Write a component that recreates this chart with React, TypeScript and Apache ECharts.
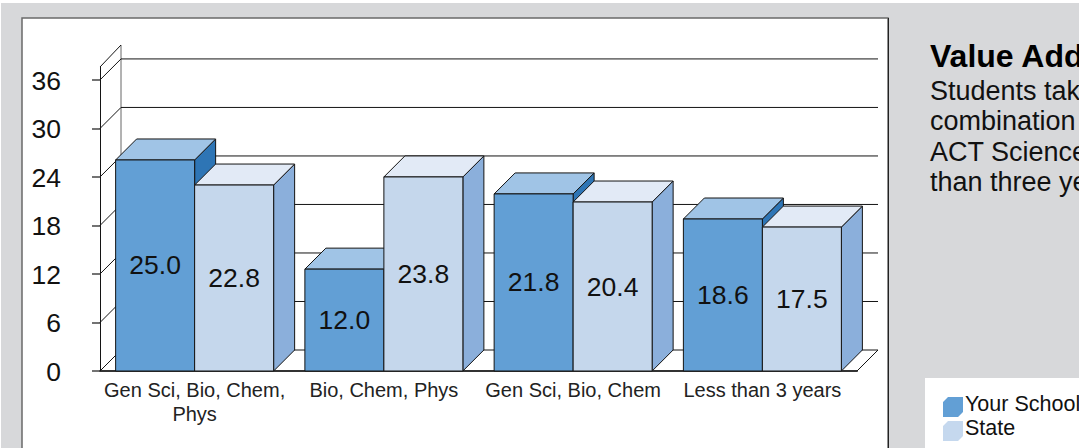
import React, { useEffect, useRef } from "react";
import * as echarts from "echarts";

const categories = ["Gen Sci, Bio, Chem,\nPhys", "Bio, Chem, Phys", "Gen Sci, Bio, Chem", "Less than 3 years"];
const yTicks = [0, 6, 12, 18, 24, 30, 36];
// Printed value labels.
const schoolLabels = [25.0, 12.0, 21.8, 18.6];
const stateLabels = [22.8, 23.8, 20.4, 17.5];
// Bar heights as read against the axis: the reference draws them a little off its printed labels.
const schoolHeights = [26.1, 12.6, 21.9, 18.8];
const stateHeights = [23.0, 24.0, 20.9, 17.8];
const seriesNames = ["Your School", "State"];
const axisTop = 37.6;

const title = "Value Added";
const bodyLines = ["Students taking", "combination", "ACT Science", "than three years"];

const FONT = "'Liberation Sans', Arial, sans-serif";
const DEPTH = 21;
const BAR = 79;
const LINE = "#141414";

function cuboid(front: string, top: string, side: string, dir: number) {
  return (params: any, api: any) => {
    const [cx, y] = api.coord([api.value(0), api.value(1)]);
    const [, y0] = api.coord([api.value(0), 0]);
    const x0 = dir < 0 ? cx - BAR : cx;
    const x1 = x0 + BAR;
    const style = (fill: string) => ({ fill, stroke: LINE, lineWidth: 1 });
    return {
      type: "group",
      children: [
        { type: "polygon", shape: { points: [[x1, y], [x1 + DEPTH, y - DEPTH], [x1 + DEPTH, y0 - DEPTH], [x1, y0]] }, style: style(side) },
        { type: "polygon", shape: { points: [[x0, y], [x0 + DEPTH, y - DEPTH], [x1 + DEPTH, y - DEPTH], [x1, y]] }, style: style(top) },
        { type: "rect", shape: { x: x0, y, width: BAR, height: y0 - y }, style: style(front) },
        {
          type: "text",
          x: x0 + BAR / 2,
          y: (y + y0) / 2,
          style: {
            text: api.value(2).toFixed(1),
            font: `26.5px ${FONT}`,
            fill: "#111",
            align: "center",
            verticalAlign: "middle",
          },
        },
      ],
    };
  };
}

function wallLines(params: any, api: any) {
  const [, y] = api.coord([0, api.value(0)]);
  const cs = params.coordSys;
  const left = cs.x;
  const right = cs.x + cs.width;
  const ln = (x1: number, y1: number, x2: number, y2: number, stroke = LINE) => ({
    type: "line",
    shape: { x1, y1, x2, y2 },
    style: { stroke, lineWidth: 1 },
  });
  const children: any[] = [
    ln(left, y, left + DEPTH, y - DEPTH),
    ln(left + DEPTH, y - DEPTH, right + DEPTH, y - DEPTH),
  ];
  if (api.value(0) === 0) {
    children.push(
      ln(right, y, right + DEPTH, y - DEPTH),
      ln(left + DEPTH, y - DEPTH, left + DEPTH, cs.y - DEPTH - 1, "#666"),
      ln(left, cs.y, left + DEPTH, cs.y - DEPTH - 1)
    );
  }
  return { type: "group", children };
}

const gray = "#d7d8da";

export default function App() {
  const ref = useRef<HTMLDivElement>(null);
  useEffect(() => {
    document.body.style.margin = "0";
    const chart = echarts.init(ref.current!, null, { renderer: "svg" });
    chart.setOption({
      animation: false,
      backgroundColor: "#ffffff",
      textStyle: { fontFamily: FONT },
      grid: { left: 100, width: 757, top: 67, height: 304 },
      legend: {
        orient: "vertical",
        left: 943,
        top: 391,
        padding: 0,
        itemWidth: 20,
        itemHeight: 26,
        itemGap: -2,
        itemStyle: { borderWidth: 0 },
        textStyle: { fontSize: 21.5, color: "#111", fontFamily: FONT, padding: [0, 0, 0, -3] },
        data: seriesNames.map((name) => ({
          name,
          icon: "path://M0,0 L0,0 Z M0,11 L5,6 L20,6 L20,21 L15,26 L0,26 Z",
        })),
      },
      xAxis: {
        type: "category",
        data: categories,
        axisLine: { lineStyle: { color: "#333", width: 2 } },
        axisTick: { alignWithLabel: true, length: 7, lineStyle: { color: "#333" } },
        axisLabel: { fontSize: 20, color: "#222", lineHeight: 24, margin: 7, interval: 0, fontFamily: FONT },
      },
      yAxis: {
        type: "value",
        min: 0,
        max: axisTop,
        interval: 6,
        splitLine: { show: false },
        axisLine: { show: true, lineStyle: { color: LINE } },
        axisTick: { show: true, length: 8, customValues: yTicks, lineStyle: { color: "#444", width: 1.5 } },
        axisLabel: {
          fontSize: 26.5,
          color: "#111",
          margin: 39,
          customValues: yTicks,
          fontFamily: FONT,
          formatter: "{a|{value}}",
          rich: { a: { fontSize: 26.5, color: "#111", fontFamily: FONT, padding: [2, 0, 0, 0] } },
        },
      },
      series: [
        {
          type: "custom",
          name: "wall",
          silent: true,
          clip: false,
          z: 1,
          coordinateSystem: "cartesian2d",
          encode: { y: 0 },
          data: yTicks.map((v) => [v]),
          renderItem: wallLines,
        },
        {
          type: "custom",
          name: seriesNames[0],
          clip: false,
          z: 2,
          itemStyle: { color: "#629fd5" },
          encode: { x: 0, y: 1 },
          data: schoolHeights.map((h, i) => [i, h, schoolLabels[i]]),
          renderItem: cuboid("#629fd5", "#a0c4e6", "#2e75b5", -1),
        },
        {
          type: "custom",
          name: seriesNames[1],
          clip: false,
          z: 3,
          itemStyle: { color: "#c5d8ee" },
          encode: { x: 0, y: 1 },
          data: stateHeights.map((h, i) => [i, h, stateLabels[i]]),
          renderItem: cuboid("#c5d7ec", "#e2eaf6", "#8bafdb", 1),
        },
      ],
      graphic: {
        elements: [
          { type: "rect", z: -20, silent: true, shape: { x: 1, y: 3, width: 1078, height: 445 }, style: { fill: gray } },
          { type: "rect", z: -19, silent: true, shape: { x: 22, y: 18, width: 866, height: 440 }, style: { fill: "#fff", stroke: "#6a6a6a", lineWidth: 1.5 } },
          { type: "line", z: -18, silent: true, shape: { x1: 888.5, y1: 18, x2: 888.5, y2: 448 }, style: { stroke: "#222", lineWidth: 1 } },
          { type: "rect", z: -19, silent: true, shape: { x: 925, y: 378, width: 154, height: 70 }, style: { fill: "#fff" } },
          { type: "text", z: 5, silent: true, x: 930, y: 40, style: { text: title, font: `bold 32px ${FONT}`, fill: "#000" } },
          ...bodyLines.map((text, i) => ({
            type: "text",
            z: 5,
            silent: true,
            x: 930,
            y: 77 + i * 30.5,
            style: { text, font: `27px ${FONT}`, fill: "#111" },
          })),
        ],
      },
    });
    return () => chart.dispose();
  }, []);
  return <div ref={ref} style={{ width: 1079, height: 448, overflow: "hidden" }} />;
}
